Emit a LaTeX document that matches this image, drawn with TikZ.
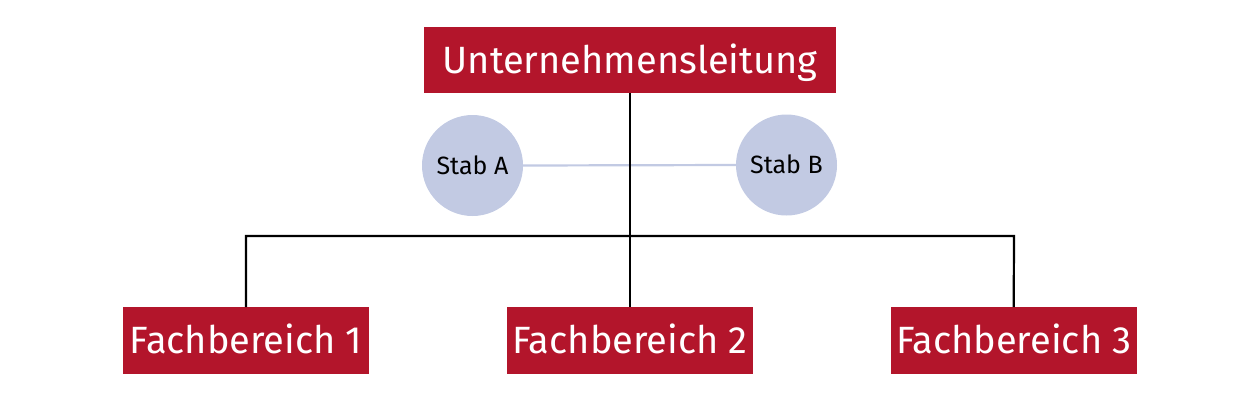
\documentclass[tikz,border=0pt]{standalone}
\usepackage{fontspec}
\setmainfont{Fira Sans}
\definecolor{boxred}{HTML}{B3152B}
\definecolor{stabblue}{HTML}{C2CAE3}
\begin{document}
\begin{tikzpicture}[x=1pt,y=-1pt,
  redbox/.style={fill=boxred,text=white,inner sep=0pt,minimum height=66.5pt,
     font=\fontsize{38}{38}\selectfont,text height=26pt,text depth=0pt},
  stabcircle/.style={circle,fill=stabblue,minimum size=101pt,inner sep=0pt,
     font=\fontsize{25}{25}\selectfont,text height=17.5pt,text depth=0pt},
  orgline/.style={line width=2.2pt,black},
  stabline/.style={line width=2.2pt,stabblue}]
\useasboundingbox (0,0) rectangle (1260,402);
\node[redbox,minimum width=412pt] (top) at (630,60) {Unternehmensleitung};
\node[stabcircle] (sa) at (472.5,165.5) {Stab A};
\node[stabcircle] (sb) at (786.5,165) {Stab B};
\node[redbox,minimum width=246pt] (f1) at (246,340.5) {Fachbereich 1};
\node[redbox,minimum width=246.5pt] (f2) at (630,340.5) {Fachbereich 2};
\node[redbox,minimum width=246pt] (f3) at (1013.7,340.5) {Fachbereich 3};
\coordinate (hl) at (246,236);
\coordinate (hr) at (1014,236);
\draw[stabline] (sa.east) -- (sb.west);
\draw[orgline] (top.south) -- (f2.north);
\draw[orgline] (f1.north) -- (hl) -- (hr) -- (f3.north);
\end{tikzpicture}
\end{document}
